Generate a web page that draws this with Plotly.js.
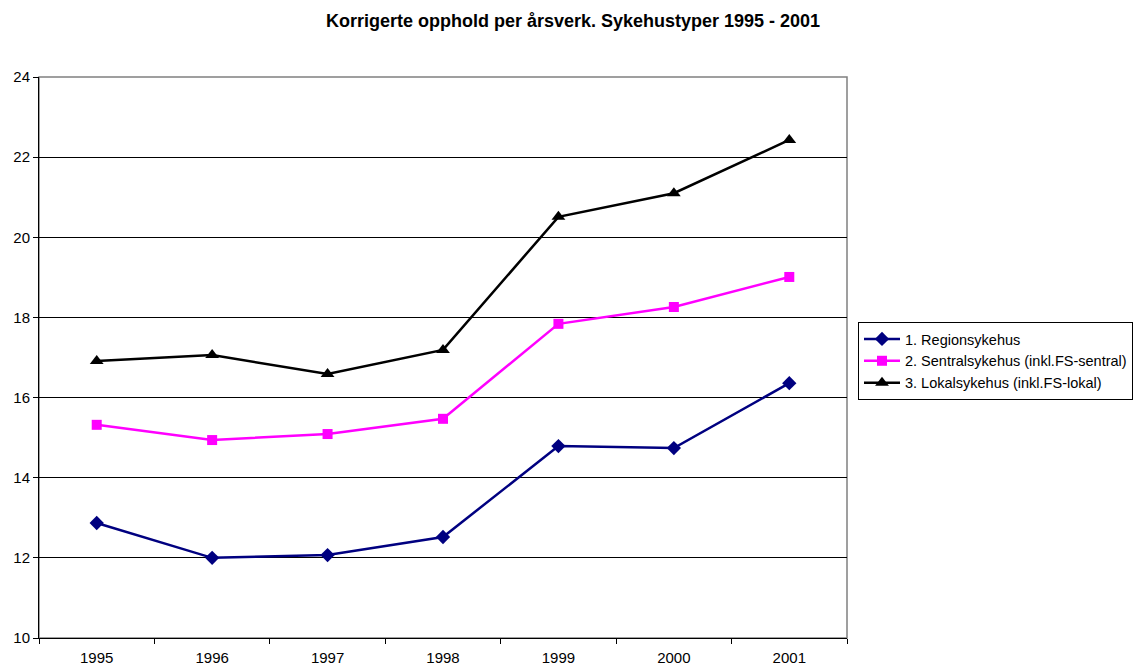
<!DOCTYPE html>
<html>
<head>
<meta charset="utf-8">
<script src="https://cdn.plot.ly/plotly-3.0.1.min.js"></script>
<style>body{margin:0;padding:0;background:#fff}#chart{width:1137px;height:668px}</style>
</head>
<body>
<div id="chart"></div>
<script>
const years = ['1995','1996','1997','1998','1999','2000','2001'];
const regionsykehus = [12.87, 12.0, 12.07, 12.52, 14.79, 14.74, 16.36];
const sentralsykehus = [15.32, 14.94, 15.09, 15.47, 17.84, 18.26, 19.01];
const lokalsykehus = [16.91, 17.06, 16.59, 17.19, 20.51, 21.10, 22.43];
const seriesNames = ['1. Regionsykehus', '2. Sentralsykehus (inkl.FS-sentral)', '3. Lokalsykehus (inkl.FS-lokal)'];

const traces = [
  {x: years, y: regionsykehus, name: seriesNames[0], type: 'scatter', mode: 'lines+markers',
   line: {color: '#000080', width: 2.5}, marker: {symbol: 'diamond', size: 11, color: '#000080'}},
  {x: years, y: sentralsykehus, name: seriesNames[1], type: 'scatter', mode: 'lines+markers',
   line: {color: '#FF00FF', width: 2.5}, marker: {symbol: 'square', size: 10, color: '#FF00FF'}},
  {x: years, y: lokalsykehus, name: seriesNames[2], type: 'scatter', mode: 'lines+markers',
   line: {color: '#000000', width: 2.5}, marker: {symbol: 'triangle-up', size: 12, color: '#000000'}}
];

const layout = {
  width: 1137, height: 668,
  margin: {l: 39, r: 290, t: 77, b: 30},
  paper_bgcolor: '#fff', plot_bgcolor: '#fff',
  font: {family: 'Arial, Liberation Sans, sans-serif', size: 15, color: '#000'},
  title: {text: '<b>Korrigerte opphold per årsverk. Sykehustyper 1995 - 2001</b>',
          x: 573/1137, xref: 'container', xanchor: 'center', y: 1 - 21/668, yref: 'container', yanchor: 'middle',
          font: {size: 18, color: '#000'}},
  xaxis: {type: 'category', range: [-0.5, 6.5], showgrid: false, zeroline: false,
          showline: true, linecolor: '#000', linewidth: 1,
          ticks: 'outside', tickson: 'boundaries', ticklen: 5, tickcolor: '#000',
          ticklabelstandoff: 6, tickfont: {size: 15}, fixedrange: true},
  yaxis: {range: [10, 24], dtick: 2, tick0: 10, showgrid: true, gridcolor: '#000', gridwidth: 1,
          zeroline: false, showline: true, linecolor: '#000', linewidth: 1,
          ticks: 'outside', ticklen: 5, tickcolor: '#000', tickfont: {size: 15}, fixedrange: true},
  shapes: [{type: 'rect', xref: 'paper', yref: 'paper', x0: 0, x1: 1, y0: 0, y1: 1,
            line: {color: '#808080', width: 1.5}, layer: 'below'}],
  legend: {x: 858/1137, xref: 'container', xanchor: 'left', y: 1 - 322/668, yref: 'container', yanchor: 'top',
           bordercolor: '#000', borderwidth: 1, bgcolor: '#fff', font: {size: 14.5},
           tracegroupgap: 0, itemwidth: 36},
  showlegend: true
};

Plotly.newPlot('chart', traces, layout, {displayModeBar: false, staticPlot: true});
</script>
</body>
</html>
